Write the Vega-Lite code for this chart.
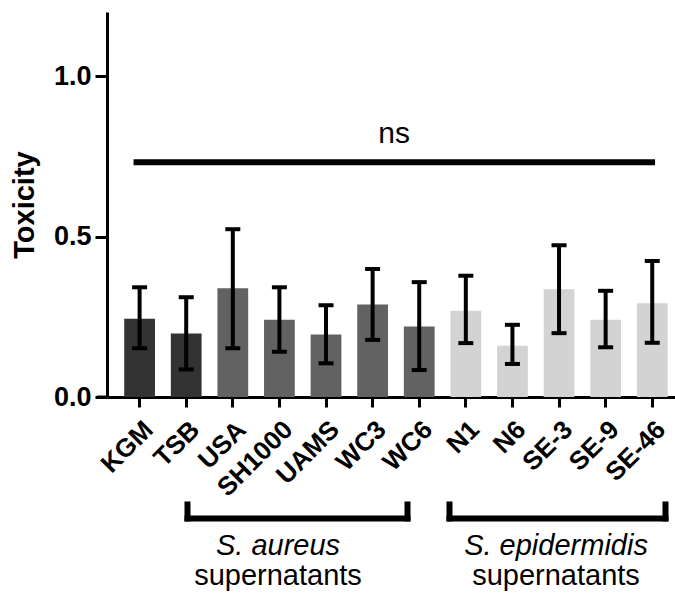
{
  "$schema": "https://vega.github.io/schema/vega-lite/v6.json",
  "width": 568,
  "height": 385,
  "autosize": {"type": "none"},
  "padding": {"left": 107, "top": 12, "right": 0, "bottom": 206},
  "background": "white",
  "config": {"view": {"stroke": null}, "font": "Liberation Sans"},
  "layer": [
    {
      "data": {"values": [
        {"name": "KGM", "group": "ctrl", "value": 0.244, "lo": 0.152, "hi": 0.342},
        {"name": "TSB", "group": "ctrl", "value": 0.198, "lo": 0.086, "hi": 0.311},
        {"name": "USA", "group": "aureus", "value": 0.339, "lo": 0.152, "hi": 0.523},
        {"name": "SH1000", "group": "aureus", "value": 0.241, "lo": 0.141, "hi": 0.342},
        {"name": "UAMS", "group": "aureus", "value": 0.195, "lo": 0.105, "hi": 0.286},
        {"name": "WC3", "group": "aureus", "value": 0.288, "lo": 0.178, "hi": 0.399},
        {"name": "WC6", "group": "aureus", "value": 0.220, "lo": 0.084, "hi": 0.358},
        {"name": "N1", "group": "epi", "value": 0.269, "lo": 0.168, "hi": 0.378},
        {"name": "N6", "group": "epi", "value": 0.160, "lo": 0.103, "hi": 0.225},
        {"name": "SE-3", "group": "epi", "value": 0.336, "lo": 0.199, "hi": 0.473},
        {"name": "SE-9", "group": "epi", "value": 0.241, "lo": 0.155, "hi": 0.331},
        {"name": "SE-46", "group": "epi", "value": 0.292, "lo": 0.169, "hi": 0.424}
      ]},
      "encoding": {
        "x": {
          "field": "name", "type": "nominal", "sort": null,
          "scale": {"paddingInner": 0.34, "paddingOuter": 0.264, "align": 0.70, "round": false},
          "axis": {
            "title": null, "labelAngle": -45, "labelFont": "Liberation Sans", "labelFontWeight": "bold",
            "labelFontSize": 26, "labelColor": "black", "domainColor": "black", "domainWidth": 3,
            "tickColor": "black", "tickWidth": 3, "tickSize": 10, "labelPadding": 9,
            "labelOverlap": false, "labelBound": false
          }
        }
      },
      "layer": [
        {
          "mark": {"type": "bar"},
          "encoding": {
            "y": {
              "field": "value", "type": "quantitative", "title": "Toxicity",
              "scale": {"domain": [0, 1.2], "nice": false},
              "axis": {
                "title": "Toxicity", "values": [0, 0.5, 1], "format": ".1f", "grid": false,
                "labelFont": "Liberation Sans", "labelFontSize": 27, "labelFontWeight": "bold", "labelColor": "black",
                "titleFont": "Liberation Sans", "titleFontSize": 29, "titleFontWeight": "bold", "titleColor": "black",
                "domainColor": "black", "domainWidth": 3, "tickColor": "black", "tickWidth": 3, "tickSize": 12,
                "labelPadding": 4, "titlePadding": 14
              }
            },
            "color": {
              "field": "group", "type": "nominal",
              "scale": {"domain": ["ctrl", "aureus", "epi"], "range": ["#333333", "#626262", "#d3d3d3"]},
              "legend": null
            }
          }
        },
        {
          "mark": {"type": "rule", "strokeWidth": 4, "color": "black"},
          "encoding": {
            "y": {"field": "lo", "type": "quantitative", "title": "Toxicity", "scale": {"domain": [0, 1.2], "nice": false}},
            "y2": {"field": "hi"}
          }
        },
        {
          "mark": {"type": "tick", "thickness": 4, "size": 15, "color": "black", "opacity": 1},
          "encoding": {
            "y": {"field": "lo", "type": "quantitative", "title": "Toxicity", "scale": {"domain": [0, 1.2], "nice": false}}
          }
        },
        {
          "mark": {"type": "tick", "thickness": 4, "size": 15, "color": "black", "opacity": 1},
          "encoding": {
            "y": {"field": "hi", "type": "quantitative", "title": "Toxicity", "scale": {"domain": [0, 1.2], "nice": false}}
          }
        }
      ]
    },
    {
      "layer": [
        {
          "data": {"values": [{"x": -0.13, "x2": 11.06, "y": 0.732}]},
          "mark": {"type": "rule", "strokeWidth": 6, "color": "black"},
          "encoding": {
            "x": {"field": "x", "type": "quantitative", "scale": {"domain": [-0.70, 11.488], "nice": false, "zero": false}, "axis": null},
            "x2": {"field": "x2"},
            "y": {"field": "y", "type": "quantitative", "title": "Toxicity", "scale": {"domain": [0, 1.2], "nice": false}}
          }
        },
        {
          "data": {"values": [{"x": -0.915, "x2": -0.70, "y": 0}]},
          "mark": {"type": "rule", "strokeWidth": 3, "color": "black"},
          "encoding": {
            "x": {"field": "x", "type": "quantitative", "scale": {"domain": [-0.70, 11.488], "nice": false, "zero": false}, "axis": null},
            "x2": {"field": "x2"},
            "y": {"field": "y", "type": "quantitative", "title": "Toxicity", "scale": {"domain": [0, 1.2], "nice": false}}
          }
        },
        {
          "data": {"values": [{"x": 5.46, "y": 0.791, "label": "ns"}]},
          "mark": {"type": "text", "fontSize": 30, "font": "Liberation Sans", "align": "center", "baseline": "alphabetic", "color": "black"},
          "encoding": {
            "x": {"field": "x", "type": "quantitative", "scale": {"domain": [-0.70, 11.488], "nice": false, "zero": false}, "axis": null},
            "y": {"field": "y", "type": "quantitative", "title": "Toxicity", "scale": {"domain": [0, 1.2], "nice": false}},
            "text": {"field": "label"}
          }
        },
        {
          "data": {"values": [
            {"x": 1.027, "x2": 1.027, "y": -0.335, "y2": -0.3785},
            {"x": 1.027, "x2": 5.748, "y": -0.3785, "y2": -0.3785},
            {"x": 5.748, "x2": 5.748, "y": -0.335, "y2": -0.3785},
            {"x": 6.649, "x2": 6.649, "y": -0.335, "y2": -0.3785},
            {"x": 6.649, "x2": 11.284, "y": -0.3785, "y2": -0.3785},
            {"x": 11.284, "x2": 11.284, "y": -0.335, "y2": -0.3785}
          ]},
          "mark": {"type": "rule", "strokeWidth": 6, "strokeCap": "square", "color": "black"},
          "encoding": {
            "x": {"field": "x", "type": "quantitative", "scale": {"domain": [-0.70, 11.488], "nice": false, "zero": false}, "axis": null},
            "x2": {"field": "x2"},
            "y": {"field": "y", "type": "quantitative", "title": "Toxicity", "scale": {"domain": [0, 1.2], "nice": false}},
            "y2": {"field": "y2"}
          }
        },
        {
          "data": {"values": [
            {"x": 2.969, "y": -0.492, "label": "S. aureus"},
            {"x": 8.935, "y": -0.492, "label": "S. epidermidis"}
          ]},
          "mark": {"type": "text", "fontSize": 29, "font": "Liberation Sans", "fontStyle": "italic", "align": "center", "baseline": "alphabetic", "color": "black"},
          "encoding": {
            "x": {"field": "x", "type": "quantitative", "scale": {"domain": [-0.70, 11.488], "nice": false, "zero": false}, "axis": null},
            "y": {"field": "y", "type": "quantitative", "title": "Toxicity", "scale": {"domain": [0, 1.2], "nice": false}},
            "text": {"field": "label"}
          }
        },
        {
          "data": {"values": [
            {"x": 2.969, "y": -0.586, "label": "supernatants"},
            {"x": 8.935, "y": -0.586, "label": "supernatants"}
          ]},
          "mark": {"type": "text", "fontSize": 29, "font": "Liberation Sans", "align": "center", "baseline": "alphabetic", "color": "black"},
          "encoding": {
            "x": {"field": "x", "type": "quantitative", "scale": {"domain": [-0.70, 11.488], "nice": false, "zero": false}, "axis": null},
            "y": {"field": "y", "type": "quantitative", "title": "Toxicity", "scale": {"domain": [0, 1.2], "nice": false}},
            "text": {"field": "label"}
          }
        }
      ]
    }
  ],
  "resolve": {"scale": {"x": "independent"}}
}
